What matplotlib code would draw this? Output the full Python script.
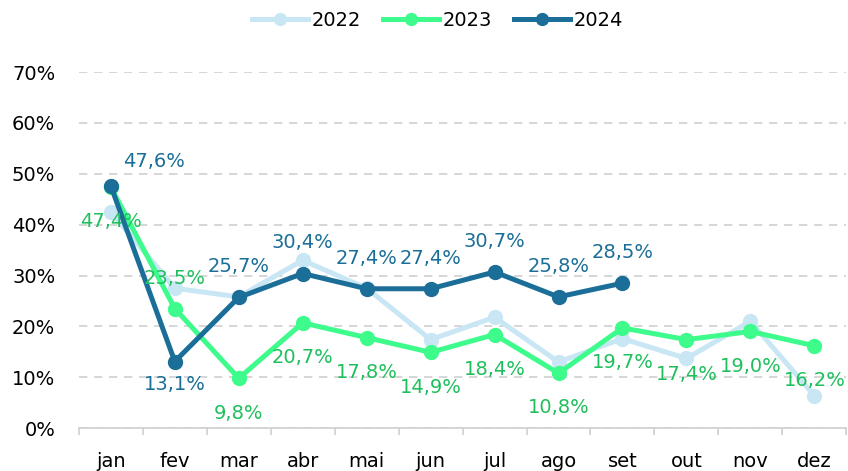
import numpy as np
import matplotlib.pyplot as plt
from matplotlib.ticker import FuncFormatter

plt.rcParams['font.family'] = ['DejaVu Sans']

# --------------------------------- #
# data

months = ["jan", "fev", "mar", "abr", "mai", "jun", "jul", "ago", "set", "out", "nov", "dez"]
vals2022 = [42.5, 27.5, 25.8, 33.0, 27.5, 17.4, 21.8, 13.0, 17.6, 13.7, 21.0, 6.4]
vals2023 = [47.4, 23.5, 9.8, 20.7, 17.8, 14.9, 18.4, 10.8, 19.7, 17.4, 19.0, 16.2]
vals2024 = [47.6, 13.1, 25.7, 30.4, 27.4, 27.4, 30.7, 25.8, 28.5]

# label placement: +1 above, -1 below
pos2023 = [-1, 1, -1, -1, -1, -1, -1, -1, -1, -1, -1, -1]
pos2024 = [1, -1, 1, 1, 1, 1, 1, 1, 1]

c2022 = "#c9e6f4"
c2023 = "#3dfc8c"
c2023txt = "#1ebf5c"
c2024 = "#1b6e97"

# --------------------------------- #

fs = 14
fig = plt.figure(figsize=(8.48, 4.71), dpi=100)
ax = fig.add_axes([0.093, 0.091, 0.905, 0.756])

x = np.arange(len(months))
lw, ms = 3.6, 10
ax.plot(x, vals2022, '-o', color=c2022, lw=lw, ms=ms, label="2022", zorder=2)
ax.plot(x, vals2023, '-o', color=c2023, lw=lw, ms=ms, label="2023", zorder=3)
ax.plot(x[:len(vals2024)], vals2024, '-o', color=c2024, lw=lw, ms=ms, label="2024", zorder=4)

def fmt(v):
    return f"{v:.1f}%".replace(".", ",")

for i, (v, p) in enumerate(zip(vals2023, pos2023)):
    dy = 22 if p > 0 else -25
    ax.annotate(fmt(v), (i, v), xytext=(0, dy), textcoords='offset points',
                ha='center', va='center', color=c2023txt, fontsize=fs, zorder=5)

for i, (v, p) in enumerate(zip(vals2024, pos2024)):
    dy = 22 if p > 0 else -16.5
    dx = 0
    if i == 0:
        dx, dy = 31, 18
    ax.annotate(fmt(v), (i, v), xytext=(dx, dy), textcoords='offset points',
                ha='center', va='center', color=c2024, fontsize=fs, zorder=5)

ax.set_xlim(-0.5, len(months) - 0.5)
ax.set_ylim(0, 70)
ax.set_yticks(np.arange(0, 71, 10))
ax.yaxis.set_major_formatter(FuncFormatter(lambda v, _: f"{v:.0f}%"))
ax.set_xticks(x)
ax.set_xticklabels(months)
ax.set_xticks(np.arange(-0.5, len(months)), minor=True)
ax.tick_params(axis='x', which='major', length=0, pad=17, labelsize=fs)
ax.tick_params(axis='x', which='minor', length=5, color="#d0d0d0", width=1.2)
ax.tick_params(axis='y', length=0, labelsize=fs, pad=17)

ax.grid(axis='y', color="#d0d0d0", linestyle=(0, (5, 4)), lw=1.2)
ax.set_axisbelow(True)
for s in ["top", "right", "left"]:
    ax.spines[s].set_visible(False)
ax.spines["bottom"].set_color("#d0d0d0")
ax.spines["bottom"].set_linewidth(1.2)

fig.legend(loc='center', bbox_to_anchor=(0.516, 0.957), ncol=3, frameon=False,
           fontsize=fs, handlelength=2.9, columnspacing=1.1, handletextpad=0.2,
           markerscale=0.85)

fig.savefig("out.png", dpi=100)
